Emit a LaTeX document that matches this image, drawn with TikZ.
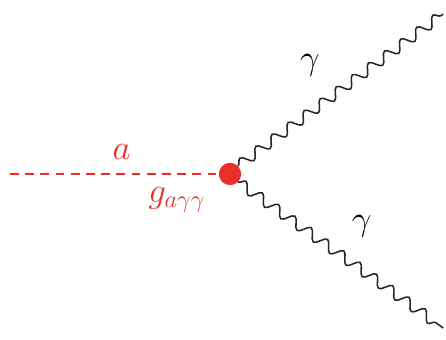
\documentclass[tikz,border=0pt]{standalone}
\usetikzlibrary{decorations.pathmorphing}
\definecolor{axionred}{RGB}{232,48,40}
\tikzset{
  vertex/.style={circle,fill=axionred,inner sep=0pt,minimum size=0.55cm},
  axion/.style={draw=axionred,line width=1.1pt,dash pattern=on 0.22cm off 0.16cm},
  photon/.style={draw=black!85,line width=1.1pt,decorate,
    decoration={snake,segment length=0.5cm,amplitude=0.13cm}},
  lbl/.style={font=\fontsize{23}{27}\selectfont,inner sep=0pt}
}
\begin{document}
\begin{tikzpicture}
  \useasboundingbox (0,0) rectangle (11.15,8.5);
  \node[vertex] (v) at (5.75,4.15) {};
  \coordinate (ain) at (0.25,4.15);
  \coordinate (gup) at (11.08,8.15);
  \coordinate (gdown) at (11.08,0.3);
  \draw[axion] (ain) -- (v.west);
  \draw[photon] (v.north east) -- (gup);
  \draw[photon] (v.south east) -- (gdown);
  \node[lbl,text=axionred] (la) at (3.04,4.7) {$a$};
  \node[lbl,text=axionred] (lg) at (4.42,3.5) {$g_{a\gamma\gamma}$};
  \node[lbl] (lgup) at (7.75,6.87) {$\gamma$};
  \node[lbl] (lgdown) at (9.04,2.83) {$\gamma$};
  \node[vertex] at (v) {};
\end{tikzpicture}
\end{document}
